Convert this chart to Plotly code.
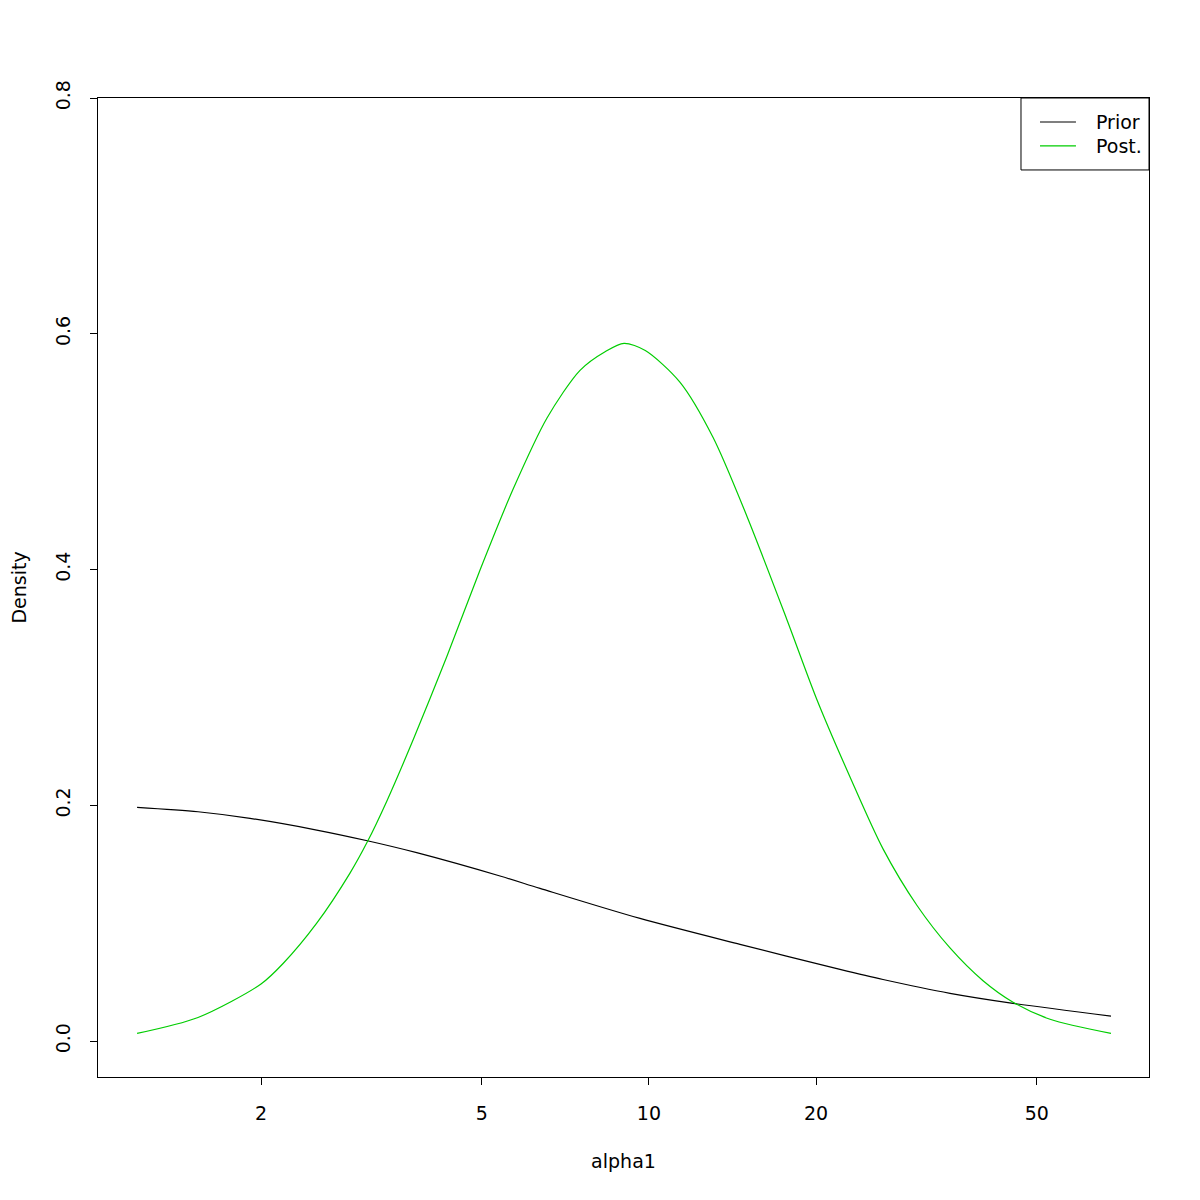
import plotly.graph_objects as go

# Posterior density
post_x = [1.196, 1.540, 2.0, 2.194, 2.520, 2.893, 3.109, 3.370, 3.763, 4.322, 4.962, 5.690, 6.551,
          7.513, 8.35, 9.018, 9.85, 11.37, 13.05, 15.02, 17.74, 20.06, 23.03, 26.41, 30.41, 34.87,
          39.99, 45.29, 52.81, 68.0]
post_y = [0.0065, 0.0200, 0.0484, 0.0660, 0.1000, 0.1425, 0.1690, 0.2035, 0.2560, 0.3260, 0.3996,
          0.4680, 0.5285, 0.5690, 0.5850, 0.5919, 0.5858, 0.5590, 0.5120, 0.4450, 0.3570, 0.2900, 0.2240,
          0.1630, 0.1150, 0.0790, 0.0512, 0.0330, 0.0185, 0.0065]

# Prior density
prior_x = [1.196, 1.540, 1.911, 2.520, 3.109, 3.815, 5.391, 6.364, 9.636, 14.59, 22.09, 26.41, 34.87, 45.29, 68.0]
prior_y = [0.1983, 0.1945, 0.1889, 0.1790, 0.1699, 0.1598, 0.1400, 0.1295, 0.1040, 0.0820, 0.0608, 0.0522,
           0.0405, 0.0320, 0.0212]

x_ticks = [2, 5, 10, 20, 50]
y_ticks = [0.0, 0.2, 0.4, 0.6, 0.8]
y_tick_labels = ["0.0", "0.2", "0.4", "0.6", "0.8"]
legend_labels = ["Prior", "Post."]
series_colors = ["black", "#00CD00"]

FONT = "DejaVu Sans"
FS = 19

fig = go.Figure()
fig.add_trace(go.Scatter(x=prior_x, y=prior_y, mode="lines", name=legend_labels[0], showlegend=False,
                         line=dict(color=series_colors[0], width=1.2, shape="spline", smoothing=0.8)))
fig.add_trace(go.Scatter(x=post_x, y=post_y, mode="lines", name=legend_labels[1], showlegend=False,
                         line=dict(color=series_colors[1], width=1.2, shape="spline", smoothing=0.8)))

# R-style legend box (top-right)
shapes = [dict(type="rect", xref="paper", yref="paper", x0=0.8782, x1=1.0, y0=0.9265, y1=1.0,
               line=dict(color="black", width=1), fillcolor="white", layer="above")]
annotations = []
for i, (lab, col) in enumerate(zip(legend_labels, series_colors)):
    yy = 0.9755 - i * 0.0245
    shapes.append(dict(type="line", xref="paper", yref="paper", x0=0.8963, x1=0.9305, y0=yy, y1=yy,
                       line=dict(color=col, width=1.2), layer="above"))
    annotations.append(dict(xref="paper", yref="paper", x=0.9477, y=yy, text=lab, showarrow=False,
                            xanchor="left", yanchor="middle", font=dict(family=FONT, size=FS, color="black")))

fig.update_layout(
    width=1200, height=1200,
    margin=dict(l=90, r=59, t=90, b=131),
    plot_bgcolor="white", paper_bgcolor="white",
    font=dict(family=FONT, size=FS, color="black"),
    showlegend=False,
    shapes=shapes, annotations=annotations,
)
fig.update_xaxes(type="log", range=[0.0073, 1.901], automargin=False,
                 tickvals=x_ticks, ticktext=[str(v) for v in x_ticks],
                 ticks="outside", ticklen=7, tickcolor="black", tickwidth=1,
                 ticklabelstandoff=12,
                 showline=True, linecolor="black", linewidth=1, mirror=True,
                 showgrid=False, zeroline=False,
                 title=dict(text="alpha1", font=dict(family=FONT, size=FS), standoff=31),
                 tickfont=dict(family=FONT, size=FS))
fig.update_yaxes(range=[-0.0305, 0.8], automargin=False,
                 tickvals=y_ticks, ticktext=y_tick_labels, tickangle=-90,
                 ticks="outside", ticklen=7, tickcolor="black", tickwidth=1,
                 ticklabelstandoff=12,
                 showline=True, linecolor="black", linewidth=1, mirror=True,
                 showgrid=False, zeroline=False,
                 title=dict(text="Density", font=dict(family=FONT, size=FS), standoff=26),
                 tickfont=dict(family=FONT, size=FS))

fig.write_html("out.html")
